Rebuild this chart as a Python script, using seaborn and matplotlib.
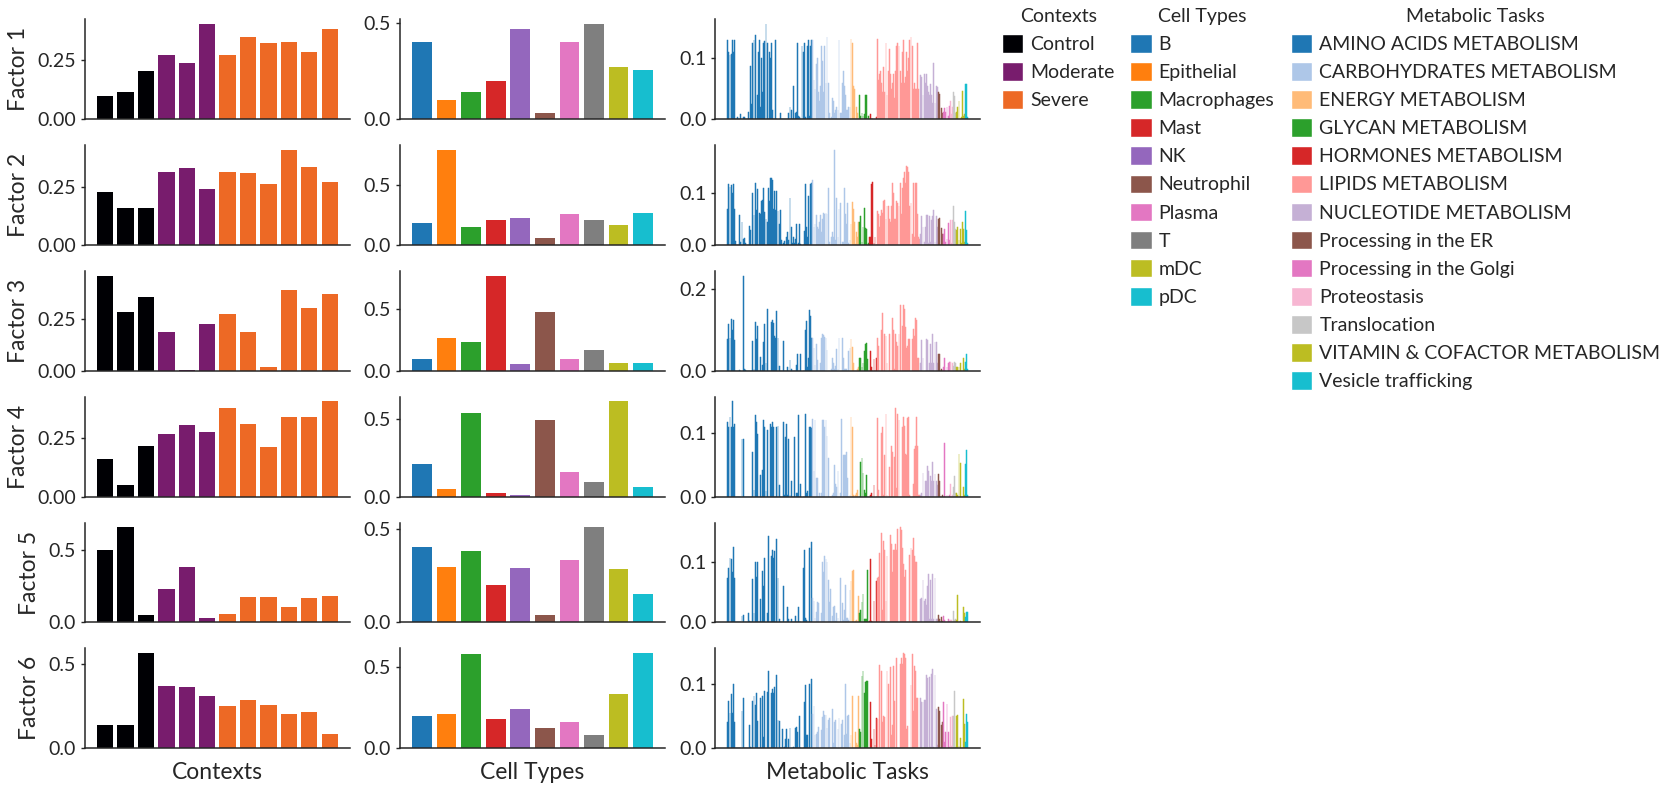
import numpy as np
import pandas as pd
import seaborn as sns
import matplotlib.pyplot as plt
from matplotlib.patches import Patch
from matplotlib.ticker import MaxNLocator

# ---- Contexts (samples) ----
context_names = ['Control', 'Moderate', 'Severe']
context_colors = ['#000004', '#781c6d', '#ed6925']
sample_names = ['C1', 'C2', 'C3', 'M1', 'M2', 'M3', 'S1', 'S2', 'S3', 'S4', 'S5', 'S6']
sample_groups = ['Control'] * 3 + ['Moderate'] * 3 + ['Severe'] * 6

ctx_factor1 = [0.098, 0.115, 0.205, 0.273, 0.239, 0.405, 0.273, 0.349, 0.324, 0.328, 0.286, 0.383]
ctx_factor2 = [0.230, 0.161, 0.161, 0.316, 0.333, 0.243, 0.316, 0.312, 0.264, 0.411, 0.338, 0.273]
ctx_factor3 = [0.457, 0.284, 0.356, 0.188, 0.005, 0.226, 0.274, 0.188, 0.019, 0.389, 0.303, 0.370]
ctx_factor4 = [0.161, 0.051, 0.212, 0.267, 0.305, 0.275, 0.373, 0.309, 0.208, 0.339, 0.339, 0.403]
ctx_factor5 = [0.498, 0.656, 0.050, 0.229, 0.381, 0.030, 0.057, 0.174, 0.174, 0.106, 0.167, 0.181]
ctx_factor6 = [0.136, 0.136, 0.563, 0.368, 0.362, 0.308, 0.249, 0.285, 0.255, 0.202, 0.213, 0.083]

# ---- Cell types ----
cell_types = ['B', 'Epithelial', 'Macrophages', 'Mast', 'NK', 'Neutrophil', 'Plasma', 'T', 'mDC', 'pDC']
cell_colors = ['#1f77b4', '#ff7f0e', '#2ca02c', '#d62728', '#9467bd',
               '#8c564b', '#e377c2', '#7f7f7f', '#bcbd22', '#17becf']

cell_factor1 = [0.400, 0.100, 0.140, 0.198, 0.470, 0.033, 0.400, 0.497, 0.270, 0.255]
cell_factor2 = [0.186, 0.794, 0.153, 0.211, 0.228, 0.053, 0.261, 0.211, 0.169, 0.269]
cell_factor3 = [0.098, 0.269, 0.236, 0.774, 0.057, 0.481, 0.098, 0.171, 0.065, 0.065]
cell_factor4 = [0.208, 0.052, 0.539, 0.026, 0.013, 0.494, 0.156, 0.097, 0.617, 0.065]
cell_factor5 = [0.402, 0.295, 0.381, 0.199, 0.290, 0.039, 0.333, 0.509, 0.285, 0.151]
cell_factor6 = [0.198, 0.210, 0.580, 0.179, 0.241, 0.123, 0.160, 0.080, 0.333, 0.586]

# ---- Metabolic tasks ----
task_groups = ['AMINO ACIDS METABOLISM', 'CARBOHYDRATES METABOLISM', 'ENERGY METABOLISM',
               'GLYCAN METABOLISM', 'HORMONES METABOLISM', 'LIPIDS METABOLISM',
               'NUCLEOTIDE METABOLISM', 'Processing in the ER', 'Processing in the Golgi',
               'Proteostasis', 'Translocation', 'VITAMIN & COFACTOR METABOLISM', 'Vesicle trafficking']
task_colors = ['#1f77b4', '#aec7e8', '#ffbb78', '#2ca02c', '#d62728', '#ff9896', '#c5b0d5',
               '#8c564b', '#e377c2', '#f7b6d2', '#c7c7c7', '#bcbd22', '#17becf']
task_group_sizes = [78, 35, 8, 9, 7, 40, 16, 5, 6, 3, 3, 8, 3]

task_factor1 = [
    # amino acids
    0.13, 0.11, 0.105, 0.108, 0.13, 0.11, 0.13, 0, 0, 0.003,
    0, 0, 0.008, 0, 0.003, 0.003, 0, 0, 0, 0.012,
    0, 0.088, 0.025, 0.125, 0.13, 0.138, 0, 0.04, 0.11, 0.13,
    0.02, 0.10, 0.045, 0.125, 0.128, 0.157, 0.125, 0, 0.11, 0.10,
    0.125, 0.015, 0, 0, 0.13, 0, 0, 0, 0.01, 0,
    0, 0, 0, 0, 0, 0, 0.01, 0.02, 0.015, 0,
    0.055, 0, 0.01, 0.012, 0.125, 0.005, 0.003, 0, 0.12, 0.11,
    0.125, 0.003, 0, 0.12, 0.13, 0.005, 0.12, 0.13,
    # carbohydrates
    0.13, 0.065, 0.05, 0.09, 0.10, 0.045, 0.03, 0.055, 0.12, 0.095,
    0.045, 0.12, 0.06, 0.135, 0.06, 0.01, 0, 0.003, 0.035, 0.03,
    0.01, 0.015, 0.02, 0.015, 0.13, 0.01, 0.01, 0.06, 0.08, 0.055,
    0.04, 0.015, 0.015, 0.02, 0.02,
    # energy
    0.132, 0.125, 0.055, 0.05, 0, 0.02, 0.01, 0,
    # glycan
    0.04, 0.005, 0.01, 0.005, 0.008, 0.04, 0.04, 0, 0.005,
    # hormones
    0, 0.008, 0, 0, 0, 0, 0.003,
    # lipids
    0.132, 0.065, 0.075, 0.08, 0.06, 0.045, 0.085, 0.045, 0.125, 0.04,
    0.08, 0.115, 0.075, 0.05, 0.06, 0.075, 0.035, 0.08, 0.12, 0.125,
    0.12, 0.08, 0.06, 0.11, 0.13, 0.06, 0.07, 0.11, 0.08, 0.10,
    0.13, 0.135, 0.12, 0.05, 0.06, 0.05, 0.05, 0.125, 0.05, 0,
    # nucleotide
    0.073, 0.07, 0.04, 0.074, 0.06, 0.075, 0.055, 0.045, 0.04, 0.058,
    0.04, 0.027, 0.092, 0.027, 0.055, 0.053,
    # ER, Golgi, proteostasis, translocation, vitamin, vesicle
    0.044, 0.042, 0, 0.018, 0.01,
    0.012, 0.018, 0.012, 0.02, 0.005, 0.022,
    0.03, 0.008, 0.02,
    0.045, 0.038, 0.01,
    0.012, 0.02, 0.03, 0, 0.004, 0.047, 0.005, 0.008,
    0.058, 0.058, 0.003,
]

task_factor2 = [
    0.07, 0.118, 0.112, 0.115, 0.10, 0.118, 0.07, 0.008, 0, 0,
    0, 0.058, 0.006, 0.045, 0.012, 0.014, 0.003, 0, 0, 0,
    0.037, 0.028, 0, 0.10, 0.058, 0.12, 0.068, 0.108, 0, 0.062,
    0.06, 0.085, 0.086, 0.11, 0.063, 0.05, 0.045, 0.11, 0.084, 0.13,
    0.13, 0.125, 0.07, 0.105, 0.067, 0.105, 0.065, 0.04, 0.068, 0.01,
    0, 0.003, 0.008, 0, 0.015, 0.025, 0.01, 0.09, 0.035, 0.003,
    0.015, 0.003, 0.012, 0.04, 0, 0.003, 0.04, 0.001, 0, 0,
    0.026, 0.118, 0.035, 0.015, 0.095, 0, 0.117, 0.12,
    0.126, 0.035, 0.04, 0.058, 0.035, 0.03, 0.045, 0.058, 0.025, 0.05,
    0.062, 0.06, 0.062, 0.06, 0.11, 0.005, 0, 0.015, 0.025, 0.015,
    0.184, 0.01, 0.09, 0.015, 0.07, 0.08, 0, 0.005, 0.005, 0.11,
    0.06, 0.04, 0.08, 0.003, 0.01,
    0.04, 0.083, 0.07, 0.045, 0.002, 0.025, 0.015, 0.045,
    0.045, 0.056, 0.005, 0.035, 0.072, 0.032, 0.03, 0, 0.003,
    0.016, 0.015, 0.118, 0.122, 0.003, 0.015, 0,
    0.065, 0.06, 0.035, 0.055, 0.068, 0.062, 0.085, 0.086, 0.05, 0.075,
    0.075, 0.05, 0.045, 0.075, 0.12, 0.10, 0.05, 0.05, 0.085, 0.08,
    0.075, 0.12, 0.06, 0.11, 0.13, 0.14, 0.12, 0.153, 0.15, 0.14,
    0.075, 0.08, 0.02, 0.12, 0.015, 0.12, 0.12, 0.06, 0.015, 0.012,
    0.02, 0.055, 0.035, 0.005, 0.035, 0.058, 0.058, 0.003, 0.055, 0.005,
    0.048, 0.055, 0.068, 0.005, 0.055, 0.035,
    0.05, 0.052, 0, 0.032, 0.02,
    0.02, 0.03, 0.005, 0.012, 0.042, 0.01,
    0.048, 0.003, 0.048,
    0.075, 0.045, 0.03,
    0.028, 0.035, 0.01, 0.03, 0.003, 0.045, 0.03, 0.005,
    0.065, 0.028, 0.003,
]

task_factor3 = [
    0.078, 0.115, 0.08, 0.127, 0.10, 0.125, 0.076, 0, 0, 0,
    0, 0.002, 0, 0, 0.233, 0.005, 0.002, 0, 0, 0,
    0, 0, 0, 0.072, 0.005, 0.12, 0.078, 0.11, 0, 0,
    0.034, 0, 0.015, 0.07, 0.115, 0.02, 0.15, 0, 0, 0,
    0.12, 0.125, 0.118, 0.085, 0.08, 0.145, 0.08, 0.012, 0, 0,
    0, 0.072, 0, 0, 0, 0.01, 0, 0.025, 0.005, 0,
    0, 0, 0, 0.015, 0.042, 0, 0, 0.042, 0, 0,
    0, 0.10, 0.122, 0.008, 0.03, 0.148, 0.133, 0.08,
    0.08, 0.055, 0.015, 0.065, 0.025, 0, 0, 0.02, 0.08, 0.09,
    0.088, 0.083, 0.08, 0.05, 0, 0, 0, 0.005, 0.03, 0.02,
    0.005, 0.012, 0.052, 0.003, 0.08, 0, 0, 0.08, 0.03, 0.003,
    0.005, 0.003, 0, 0.048, 0.055,
    0.078, 0.058, 0.018, 0, 0, 0, 0.005, 0.008,
    0.03, 0.03, 0.01, 0.02, 0.047, 0.065, 0.067, 0.028, 0,
    0, 0.049, 0.01, 0, 0.028, 0.002, 0.032,
    0.08, 0.06, 0, 0, 0.10, 0.142, 0, 0.09, 0.085, 0.02,
    0, 0.09, 0, 0, 0.13, 0.10, 0.005, 0.09, 0.07, 0.06,
    0.09, 0.16, 0, 0.11, 0.162, 0.15, 0.108, 0.055, 0.06, 0.078,
    0.078, 0, 0.078, 0.102, 0.085, 0.128, 0.125, 0.03, 0.03, 0,
    0.018, 0.075, 0.032, 0, 0, 0.078, 0.075, 0, 0.018, 0.065,
    0.018, 0.09, 0.018, 0.07, 0.07, 0.018,
    0.04, 0.042, 0, 0.004, 0,
    0.01, 0.032, 0, 0.008, 0.018, 0.022,
    0.022, 0, 0.02,
    0.012, 0.022, 0.018,
    0.008, 0.01, 0.01, 0.018, 0, 0, 0.032, 0.003,
    0.022, 0.04, 0.003,
]

task_factor4 = [
    0.118, 0.11, 0.125, 0.11, 0.15, 0.11, 0.115, 0, 0, 0,
    0, 0, 0, 0.09, 0.09, 0, 0, 0, 0, 0,
    0, 0, 0, 0.07, 0.01, 0.128, 0.118, 0.098, 0, 0,
    0.034, 0, 0.042, 0.12, 0.11, 0.008, 0.105, 0, 0, 0.114,
    0.11, 0.118, 0.11, 0, 0, 0.11, 0.112, 0.018, 0, 0,
    0, 0.117, 0.003, 0.094, 0.115, 0.003, 0.09, 0.003, 0.024, 0,
    0, 0.094, 0, 0.005, 0.005, 0.128, 0, 0.02, 0, 0,
    0, 0.13, 0.005, 0.008, 0, 0.11, 0.11, 0.108,
    0.123, 0.04, 0.12, 0.03, 0.03, 0, 0.005, 0, 0.005, 0.12,
    0.12, 0.11, 0.12, 0.095, 0.06, 0, 0, 0, 0.002, 0.005,
    0.05, 0.02, 0.015, 0.04, 0, 0.005, 0.123, 0, 0.065, 0.065,
    0.065, 0.07, 0.03, 0, 0.003,
    0.125, 0.11, 0.003, 0, 0.003, 0.005, 0.01, 0,
    0, 0.055, 0.06, 0.037, 0.01, 0.005, 0.034, 0, 0,
    0, 0.002, 0.005, 0, 0.018, 0, 0,
    0.124, 0.011, 0, 0, 0.10, 0.11, 0.002, 0.065, 0.13, 0.003,
    0, 0.046, 0, 0.08, 0.07, 0, 0.062, 0.14, 0.013, 0.13,
    0.12, 0, 0, 0.11, 0.125, 0.112, 0.067, 0.065, 0.124, 0.125,
    0.002, 0, 0, 0.02, 0.075, 0.08, 0.125, 0.08, 0.003, 0.002,
    0.002, 0.005, 0.037, 0, 0.025, 0.025, 0.048, 0.04, 0, 0.032,
    0.025, 0.055, 0.025, 0.035, 0.025, 0.018,
    0.035, 0.025, 0, 0, 0.002,
    0, 0.085, 0, 0.002, 0, 0.002,
    0.02, 0, 0.003,
    0.015, 0.033, 0.005,
    0.005, 0.003, 0.067, 0.053, 0, 0, 0.015, 0.002,
    0.052, 0.073, 0.003,
]

task_factor5 = [
    0.074, 0.09, 0.106, 0.104, 0.083, 0.125, 0.074, 0, 0, 0,
    0, 0, 0, 0.01, 0.013, 0, 0, 0, 0, 0.016,
    0.003, 0, 0, 0.072, 0.015, 0.10, 0.075, 0.10, 0, 0,
    0.038, 0, 0.085, 0.06, 0.107, 0, 0.015, 0.142, 0, 0,
    0.109, 0.12, 0.107, 0.118, 0, 0.137, 0.074, 0.006, 0, 0,
    0, 0.06, 0, 0, 0, 0.026, 0.005, 0, 0.005, 0,
    0, 0, 0.01, 0, 0, 0.026, 0, 0, 0, 0.09,
    0.12, 0.008, 0.004, 0, 0, 0.123, 0, 0.132,
    0.04, 0.035, 0.008, 0.017, 0.033, 0.032, 0, 0, 0.015, 0.10,
    0.083, 0.11, 0.105, 0.10, 0.07, 0.033, 0.055, 0, 0.01, 0.025,
    0.027, 0.003, 0.015, 0.008, 0, 0.074, 0, 0.032, 0.004, 0.02,
    0.062, 0.008, 0.007, 0.004, 0.054,
    0.068, 0.085, 0.086, 0, 0.002, 0.004, 0, 0.043,
    0.016, 0.02, 0.034, 0.047, 0.006, 0.006, 0.005, 0.086, 0,
    0.002, 0.105, 0.002, 0, 0.036, 0, 0.069,
    0.074, 0.075, 0.115, 0, 0.148, 0.02, 0.135, 0.119, 0.035, 0.11,
    0, 0, 0.145, 0.13, 0.083, 0.12, 0.12, 0.13, 0.12, 0.154,
    0, 0.157, 0.153, 0.123, 0.097, 0.075, 0.087, 0, 0, 0,
    0.112, 0.122, 0.12, 0.14, 0.11, 0.099, 0.099, 0, 0, 0,
    0.038, 0.04, 0.07, 0.036, 0.038, 0.028, 0.06, 0.08, 0.005, 0.07,
    0.005, 0.08, 0.005, 0.074, 0.005, 0.005,
    0.013, 0.005, 0, 0.009, 0.002,
    0.011, 0.004, 0, 0.003, 0.006, 0.002,
    0.004, 0.004, 0,
    0.018, 0.004, 0.005,
    0.004, 0.045, 0, 0.003, 0, 0, 0.025, 0.016,
    0.009, 0.017, 0.017,
]

task_factor6 = [
    0.04, 0.073, 0.054, 0.084, 0.055, 0.099, 0.04, 0, 0, 0,
    0, 0, 0, 0.058, 0.078, 0, 0, 0, 0, 0,
    0.036, 0.002, 0, 0.073, 0.08, 0.067, 0.085, 0.042, 0, 0,
    0.078, 0, 0.08, 0.018, 0.088, 0, 0.087, 0.12, 0, 0,
    0.086, 0.092, 0.085, 0.094, 0, 0.113, 0.044, 0.042, 0, 0,
    0.03, 0, 0.002, 0.015, 0.03, 0, 0.015, 0.031, 0, 0,
    0.002, 0, 0.032, 0.033, 0.025, 0, 0.05, 0, 0, 0,
    0.072, 0.097, 0.02, 0.02, 0, 0.10, 0, 0.107,
    0.053, 0.066, 0.02, 0.022, 0.025, 0.033, 0, 0, 0.028, 0.048,
    0.057, 0.052, 0.052, 0.031, 0.044, 0.046, 0, 0, 0.06, 0.008,
    0.04, 0.043, 0, 0.03, 0.046, 0, 0.037, 0.044, 0, 0.02,
    0.10, 0.022, 0.05, 0.052, 0.008,
    0.02, 0.08, 0, 0, 0.025, 0.008, 0.005, 0.08,
    0.03, 0.025, 0.112, 0.12, 0.085, 0.103, 0.104, 0.104, 0,
    0, 0.072, 0.015, 0, 0.03, 0.005, 0.046,
    0.045, 0, 0.128, 0, 0.12, 0.04, 0.05, 0.048, 0, 0.12,
    0.10, 0, 0.125, 0.02, 0.036, 0.127, 0.073, 0, 0.14, 0,
    0, 0.13, 0.14, 0.13, 0.147, 0.145, 0.14, 0.03, 0.034, 0,
    0, 0.098, 0.145, 0.058, 0.127, 0.12, 0.077, 0.077, 0, 0,
    0.077, 0.072, 0.072, 0.075, 0.075, 0.113, 0.108, 0, 0.11, 0.002,
    0.115, 0.122, 0.002, 0.113, 0.06, 0.005,
    0.063, 0.057, 0, 0.036, 0.04,
    0.072, 0.01, 0.025, 0.068, 0.025, 0.002,
    0.048, 0.003, 0.05,
    0.05, 0.088, 0.002,
    0.05, 0.052, 0.003, 0.016, 0, 0, 0.076, 0.037,
    0.01, 0.053, 0.04,
]

ctx_loadings = [ctx_factor1, ctx_factor2, ctx_factor3, ctx_factor4, ctx_factor5, ctx_factor6]
cell_loadings = [cell_factor1, cell_factor2, cell_factor3, cell_factor4, cell_factor5, cell_factor6]
task_loadings = [task_factor1, task_factor2, task_factor3, task_factor4, task_factor5, task_factor6]

task_labels = [f'task_{i}' for i in range(sum(task_group_sizes))]
task_of = list(np.repeat(task_groups, task_group_sizes))

sns.set_theme(style='ticks')
plt.rcParams['font.family'] = ['Lato', 'DejaVu Sans']


def draw_loadings(ax, labels, values, groups, names, colors, thin=False):
    df = pd.DataFrame({'item': labels, 'loading': values, 'group': groups})
    sns.barplot(data=df, x='item', y='loading', hue='group', order=labels,
                hue_order=names, palette=dict(zip(names, colors)), dodge=False,
                saturation=1, errorbar=None, linewidth=0, legend=False, ax=ax)
    if thin:
        # give the hair-thin bars a matching outline so they read as solid
        for p in ax.patches:
            p.set_edgecolor(p.get_facecolor())
            p.set_linewidth(0.35)
    n = len(labels)
    pad = 0.05 * (n - 0.2)
    ax.set_xlim(-0.4 - pad, n - 0.6 + pad)
    ax.set_xticks([])
    ax.set_xlabel('')
    ax.set_ylabel('')
    ax.yaxis.set_major_locator(MaxNLocator(nbins=2, steps=[1, 2, 2.5, 5, 10]))
    ax.tick_params(axis='y', labelsize=14, length=3, width=1)
    for s in ['left', 'bottom']:
        ax.spines[s].set_linewidth(1.1)
    sns.despine(ax=ax)


fig, axes = plt.subplots(6, 3, figsize=(16.67, 7.96), dpi=100)
fig.subplots_adjust(left=0.051, right=0.588, top=0.976, bottom=0.06, wspace=0.19, hspace=0.26)

for i in range(6):
    draw_loadings(axes[i, 0], sample_names, ctx_loadings[i], sample_groups,
                  context_names, context_colors)
    draw_loadings(axes[i, 1], cell_types, cell_loadings[i], cell_types,
                  cell_types, cell_colors)
    draw_loadings(axes[i, 2], task_labels, task_loadings[i], task_of,
                  task_groups, task_colors, thin=True)
    axes[i, 0].set_ylabel(f'Factor {i + 1}', fontsize=16.5, labelpad=6)

for j, name in enumerate(['Contexts', 'Cell Types', 'Metabolic Tasks']):
    axes[5, j].set_xlabel(name, fontsize=16.5, labelpad=10)


def add_legend(names, colors, title, x):
    handles = [Patch(facecolor=c, edgecolor='white', label=n) for n, c in zip(names, colors)]
    leg = fig.legend(handles=handles, title=title, loc='upper left', bbox_to_anchor=(x, 0.99),
                     frameon=False, fontsize=14, title_fontsize=14, handlelength=1.1,
                     handleheight=1.1, labelspacing=0.47, handletextpad=0.35,
                     borderpad=0, borderaxespad=0)
    return leg


add_legend(context_names, context_colors, 'Contexts', 0.601)
add_legend(cell_types, cell_colors, 'Cell Types', 0.678)
add_legend(task_groups, task_colors, 'Metabolic Tasks', 0.7745)

plt.savefig('out.png', dpi=100)
